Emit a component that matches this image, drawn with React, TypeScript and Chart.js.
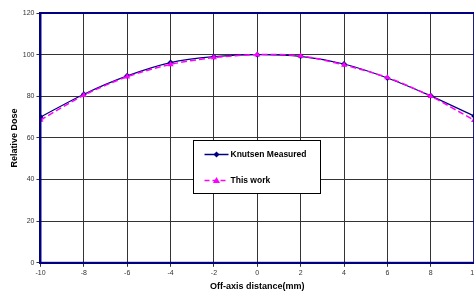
import React, { useEffect, useRef } from "react";
import { Chart, registerables } from "chart.js";

Chart.register(...registerables);

const xValues = [-10, -8, -6, -4, -2, 0, 2, 4, 6, 8, 10];
const knutsenMeasured = [70, 81, 89.8, 96.2, 99, 100, 99.2, 95.5, 88.8, 80.2, 70.5];
const thisWork = [68.6, 80.5, 89.4, 95.3, 98.6, 100, 99.4, 95, 89, 80, 68.5];
const seriesNames = ["Knutsen Measured", "This work"];
const xTitle = "Off-axis distance(mm)";
const yTitle = "Relative Dose";

const FONT = "'Liberation Sans', Arial, sans-serif";

const frameAndLegend = {
  id: "frameAndLegend",
  afterDraw(chart: any) {
    const { ctx, chartArea } = chart;
    const { left, right, top, bottom } = chartArea;
    ctx.save();
    ctx.strokeStyle = "#000080";
    ctx.lineWidth = 2;
    ctx.strokeRect(left, top, right - left, bottom - top);

    const w = right - left;
    const h = bottom - top;
    const bx = Math.round(left + w * 0.352) + 0.5;
    const by = Math.round(top + h * 0.508) + 0.5;
    const bw = 127;
    const bh = 53;
    ctx.fillStyle = "#ffffff";
    ctx.fillRect(bx, by, bw, bh);
    ctx.strokeStyle = "#000000";
    ctx.lineWidth = 1;
    ctx.strokeRect(bx, by, bw, bh);

    const entries = [
      { label: seriesNames[0], color: "#000080", dash: [] as number[], style: "diamond", y: by + 14 },
      { label: seriesNames[1], color: "#FF00FF", dash: [5, 3], style: "triangle", y: by + 40 },
    ];
    for (const e of entries) {
      ctx.strokeStyle = e.color;
      ctx.lineWidth = 1.5;
      ctx.setLineDash(e.dash);
      ctx.beginPath();
      ctx.moveTo(bx + 11, e.y);
      ctx.lineTo(bx + 35, e.y);
      ctx.stroke();
      ctx.setLineDash([]);
      ctx.fillStyle = e.color;
      const cx = bx + 23;
      ctx.beginPath();
      if (e.style === "diamond") {
        ctx.moveTo(cx, e.y - 3);
        ctx.lineTo(cx + 3, e.y);
        ctx.lineTo(cx, e.y + 3);
        ctx.lineTo(cx - 3, e.y);
      } else {
        ctx.moveTo(cx, e.y - 3.5);
        ctx.lineTo(cx + 3.5, e.y + 2.5);
        ctx.lineTo(cx - 3.5, e.y + 2.5);
      }
      ctx.closePath();
      ctx.fill();
      ctx.fillStyle = "#000";
      ctx.font = `bold 8.5px ${FONT}`;
      ctx.textBaseline = "middle";
      ctx.textAlign = "left";
      ctx.fillText(e.label, bx + 37, e.y + 0.5);
    }
    ctx.restore();
  },
};

export default function App() {
  const ref = useRef<HTMLCanvasElement>(null);
  useEffect(() => {
    if (!ref.current) return;
    const chart = new Chart(ref.current, {
      type: "line",
      data: {
        datasets: [
          {
            label: seriesNames[1],
            data: xValues.map((x, i) => ({ x, y: thisWork[i] })),
            borderColor: "#FF00FF",
            backgroundColor: "#FF00FF",
            borderWidth: 1.5,
            borderDash: [6, 3],
            pointStyle: "triangle",
            pointRadius: 3.5,
            pointBorderWidth: 0,
            tension: 0.3,
          },
          {
            label: seriesNames[0],
            data: xValues.map((x, i) => ({ x, y: knutsenMeasured[i] })),
            borderColor: "#000080",
            backgroundColor: "#000080",
            borderWidth: 1.2,
            pointStyle: "rectRot",
            pointRadius: 3,
            pointBorderWidth: 0,
            tension: 0.3,
          },
        ],
      },
      options: {
        animation: false,
        responsive: false,
        maintainAspectRatio: false,
        layout: { padding: { top: 13, left: 9, right: 0, bottom: 0 } },
        plugins: { legend: { display: false }, tooltip: { enabled: false } },
        scales: {
          x: {
            type: "linear",
            min: -10,
            max: 10,
            ticks: { stepSize: 2, color: "#333", font: { family: FONT, size: 7 }, padding: 2, maxRotation: 0 },
            grid: { color: "#333", lineWidth: 1, tickLength: 4 },
            border: { color: "#000080", width: 2 },
            title: { display: true, text: xTitle, color: "#000", font: { family: FONT, size: 9, weight: "bold" }, padding: { top: 2, bottom: 0 } },
          },
          y: {
            min: 0,
            max: 120,
            ticks: { stepSize: 20, color: "#333", font: { family: FONT, size: 7 }, padding: 2 },
            grid: { color: "#333", lineWidth: 1, tickLength: 4 },
            border: { color: "#000080", width: 2 },
            title: { display: true, text: yTitle, color: "#000", font: { family: FONT, size: 9, weight: "bold" }, padding: { top: 0, bottom: 1 } },
          },
        },
      },
      plugins: [frameAndLegend],
    });
    return () => chart.destroy();
  }, []);
  return (
    <div style={{ position: "fixed", left: 0, top: 0, width: 474, height: 292, overflow: "hidden", background: "#fff" }}>
      <canvas ref={ref} width={480} height={292} style={{ display: "block" }} />
    </div>
  );
}
